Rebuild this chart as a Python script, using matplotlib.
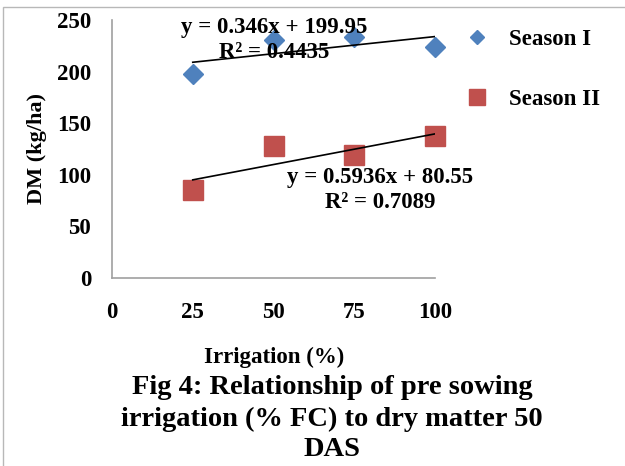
import matplotlib.pyplot as plt
from matplotlib.patches import Rectangle
import numpy as np

# data
irrigation = [25, 50, 75, 100]
season1 = [197.5, 230.5, 234, 224]
season2 = [85, 128, 119, 137.5]
x_ticks = [0, 25, 50, 75, 100]
y_ticks = [0, 50, 100, 150, 200, 250]

BLUE = "#4F81BD"
RED = "#C0504D"
AXIS = "#A0A0A0"

plt.rcParams['font.family'] = ['Liberation Serif', 'DejaVu Serif']
plt.rcParams['font.weight'] = 'bold'

fig = plt.figure(figsize=(6.25, 4.66), dpi=100)
ax = fig.add_axes([112 / 625, 1 - 278 / 466, 323 / 625, 258 / 466])

# outer frame of the chart area
fig.patches.append(Rectangle((3 / 625, -0.1), 1.1, 1 - 7 / 466 + 0.1,
                             transform=fig.transFigure, fill=False,
                             ec="#B8B8B8", lw=1.0, zorder=0))

ax.plot(irrigation, season1, 'D', color=BLUE, ms=10.5, label="Season I",
        zorder=3, clip_on=False)
ax.plot(irrigation, season2, 's', color=RED, ms=14.5, label="Season II",
        zorder=3, clip_on=False)

# linear trend lines
xs = np.array([irrigation[0], irrigation[-1]])
for ser in (season1, season2):
    k, b = np.polyfit(irrigation, ser, 1)
    ax.plot(xs, k * xs + b, color="black", lw=1.2, zorder=4)

ax.set_xlim(0, 100)
ax.set_ylim(0, 250)
ax.set_xticks(x_ticks)
ax.set_yticks(y_ticks)
ax.tick_params(length=0, labelsize=16.5)
ax.tick_params(axis='x', pad=17)
ax.tick_params(axis='y', pad=15)
for s in ('top', 'right'):
    ax.spines[s].set_visible(False)
for s in ('left', 'bottom'):
    ax.spines[s].set_color(AXIS)
    ax.spines[s].set_linewidth(1.2)

ax.set_ylabel("DM (kg/ha)", fontsize=16, fontweight='bold', labelpad=7)
fig.text(274 / 625, 1 - 357 / 466, "Irrigation (%)", fontsize=16.5,
         fontweight='bold', ha='center', va='center')

fs = 16.5
fig.text(274 / 625, 1 - 27 / 466, "y = 0.346x + 199.95", fontsize=fs,
         fontweight='bold', ha='center', va='center', zorder=5)
fig.text(274 / 625, 1 - 53 / 466, "R² = 0.4435", fontsize=fs,
         fontweight='bold', ha='center', va='center', zorder=5)
fig.text(380 / 625, 1 - 177 / 466, "y = 0.5936x + 80.55", fontsize=fs,
         fontweight='bold', ha='center', va='center', zorder=5)
fig.text(380 / 625, 1 - 202 / 466, "R² = 0.7089", fontsize=fs,
         fontweight='bold', ha='center', va='center', zorder=5)

leg = ax.legend(loc='upper left', bbox_to_anchor=(445 / 625, 1 - 8 / 466),
                bbox_transform=fig.transFigure, frameon=False,
                labelspacing=1.7, handletextpad=0.9, handlelength=1.0,
                prop={'weight': 'bold', 'size': 16.5})
leg.legend_handles[0].set_markersize(7.5)
leg.legend_handles[1].set_markersize(11)

caption = ["Fig 4: Relationship of pre sowing",
           "irrigation (% FC) to dry matter 50",
           "DAS"]
for i, line in enumerate(caption):
    fig.text(332 / 625, 1 - (388 + 31 * i) / 466, line, fontsize=20.5,
             fontweight='bold', ha='center', va='center')

fig.savefig("out.png", dpi=100)
